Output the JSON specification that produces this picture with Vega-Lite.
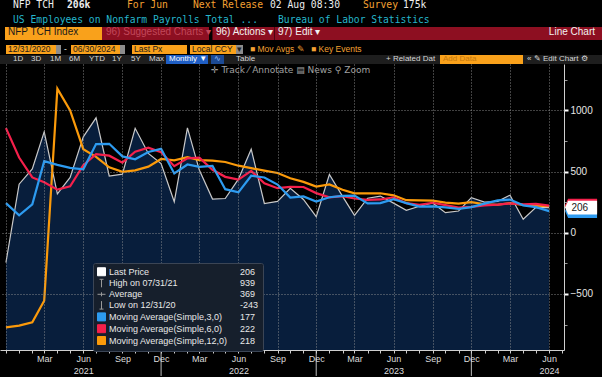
{
  "$schema": "https://vega.github.io/schema/vega-lite/v6.json",
  "background": "#000000",
  "padding": 0,
  "spacing": 0,
  "datasets": {
    "nfp": [
      {"date": "2020-12-01", "nfp": -243, "ma3": 242, "ma6": 855, "ma12": -773},
      {"date": "2021-01-01", "nfp": 397, "ma3": 142, "ma6": 615, "ma12": -759},
      {"date": "2021-02-01", "nfp": 522, "ma3": 232, "ma6": 452, "ma12": -732},
      {"date": "2021-03-01", "nfp": 825, "ma3": 585, "ma6": 412, "ma12": -555},
      {"date": "2021-04-01", "nfp": 318, "ma3": 555, "ma6": 352, "ma12": 1178},
      {"date": "2021-05-01", "nfp": 452, "ma3": 530, "ma6": 380, "ma12": 1000},
      {"date": "2021-06-01", "nfp": 784, "ma3": 518, "ma6": 552, "ma12": 683},
      {"date": "2021-07-01", "nfp": 939, "ma3": 725, "ma6": 642, "ma12": 620},
      {"date": "2021-08-01", "nfp": 464, "ma3": 727, "ma6": 630, "ma12": 535},
      {"date": "2021-09-01", "nfp": 479, "ma3": 624, "ma6": 573, "ma12": 498},
      {"date": "2021-10-01", "nfp": 854, "ma3": 600, "ma6": 662, "ma12": 510},
      {"date": "2021-11-01", "nfp": 648, "ma3": 660, "ma6": 695, "ma12": 540},
      {"date": "2021-12-01", "nfp": 566, "ma3": 686, "ma6": 658, "ma12": 603},
      {"date": "2022-01-01", "nfp": 253, "ma3": 485, "ma6": 544, "ma12": 592},
      {"date": "2022-02-01", "nfp": 857, "ma3": 558, "ma6": 608, "ma12": 618},
      {"date": "2022-03-01", "nfp": 512, "ma3": 538, "ma6": 613, "ma12": 594},
      {"date": "2022-04-01", "nfp": 275, "ma3": 546, "ma6": 515, "ma12": 590},
      {"date": "2022-05-01", "nfp": 280, "ma3": 356, "ma6": 457, "ma12": 578},
      {"date": "2022-06-01", "nfp": 438, "ma3": 330, "ma6": 434, "ma12": 548},
      {"date": "2022-07-01", "nfp": 683, "ma3": 466, "ma6": 505, "ma12": 528},
      {"date": "2022-08-01", "nfp": 239, "ma3": 452, "ma6": 404, "ma12": 508},
      {"date": "2022-09-01", "nfp": 256, "ma3": 394, "ma6": 364, "ma12": 488},
      {"date": "2022-10-01", "nfp": 364, "ma3": 287, "ma6": 375, "ma12": 445},
      {"date": "2022-11-01", "nfp": 272, "ma3": 297, "ma6": 374, "ma12": 416},
      {"date": "2022-12-01", "nfp": 131, "ma3": 255, "ma6": 324, "ma12": 378},
      {"date": "2023-01-01", "nfp": 476, "ma3": 290, "ma6": 290, "ma12": 395},
      {"date": "2023-02-01", "nfp": 297, "ma3": 301, "ma6": 299, "ma12": 352},
      {"date": "2023-03-01", "nfp": 142, "ma3": 304, "ma6": 280, "ma12": 322},
      {"date": "2023-04-01", "nfp": 282, "ma3": 240, "ma6": 268, "ma12": 322},
      {"date": "2023-05-01", "nfp": 300, "ma3": 242, "ma6": 272, "ma12": 323},
      {"date": "2023-06-01", "nfp": 242, "ma3": 275, "ma6": 290, "ma12": 306},
      {"date": "2023-07-01", "nfp": 184, "ma3": 242, "ma6": 242, "ma12": 266},
      {"date": "2023-08-01", "nfp": 217, "ma3": 214, "ma6": 228, "ma12": 264},
      {"date": "2023-09-01", "nfp": 244, "ma3": 215, "ma6": 245, "ma12": 262},
      {"date": "2023-10-01", "nfp": 164, "ma3": 208, "ma6": 226, "ma12": 246},
      {"date": "2023-11-01", "nfp": 178, "ma3": 196, "ma6": 206, "ma12": 238},
      {"date": "2023-12-01", "nfp": 287, "ma3": 210, "ma6": 212, "ma12": 250},
      {"date": "2024-01-01", "nfp": 250, "ma3": 238, "ma6": 223, "ma12": 233},
      {"date": "2024-02-01", "nfp": 257, "ma3": 264, "ma6": 230, "ma12": 229},
      {"date": "2024-03-01", "nfp": 307, "ma3": 271, "ma6": 240, "ma12": 242},
      {"date": "2024-04-01", "nfp": 110, "ma3": 224, "ma6": 232, "ma12": 228},
      {"date": "2024-05-01", "nfp": 208, "ma3": 209, "ma6": 236, "ma12": 221},
      {"date": "2024-06-01", "nfp": 206, "ma3": 177, "ma6": 222, "ma12": 218}
    ],
    "tags": [
      {"key": "ma3", "value": 177},
      {"key": "ma12", "value": 218},
      {"key": "ma6", "value": 222},
      {"key": "last", "value": 206}
    ]
  },
  "vconcat": [
    {"spacing": 0, "hconcat": [
      {"width": 67, "height": 13, "data": {"values": []}, "mark": "point", "title": {"text": "NFP TCH", "dx": 13, "font": "DejaVu Sans Mono", "fontSize": 9.7}},
      {"width": 60, "height": 13, "data": {"values": []}, "mark": "point", "title": {"text": "206k", "fontWeight": "bold", "font": "DejaVu Sans Mono", "fontSize": 9.7}},
      {"width": 66, "height": 13, "data": {"values": []}, "mark": "point", "title": {"text": "For Jun", "color": "#f4a132", "font": "DejaVu Sans Mono", "fontSize": 9.7}},
      {"width": 77, "height": 13, "data": {"values": []}, "mark": "point", "title": {"text": "Next Release", "color": "#f4a132", "font": "DejaVu Sans Mono", "fontSize": 9.7}},
      {"width": 93, "height": 13, "data": {"values": []}, "mark": "point", "title": {"text": "02 Aug 08:30", "font": "DejaVu Sans Mono", "fontSize": 9.7}},
      {"width": 40, "height": 13, "data": {"values": []}, "mark": "point", "title": {"text": "Survey", "color": "#f4a132", "font": "DejaVu Sans Mono", "fontSize": 9.7}},
      {"width": 199, "height": 13, "data": {"values": []}, "mark": "point", "title": {"text": "175k", "font": "DejaVu Sans Mono", "fontSize": 9.7}}
    ]},
    {"spacing": 0, "hconcat": [
      {"width": 278, "height": 14, "data": {"values": []}, "mark": "point", "title": {"text": "US Employees on Nonfarm Payrolls Total ...", "color": "#25b6cc", "dx": 13, "offset": -12, "font": "DejaVu Sans Mono", "fontSize": 9.7}},
      {"width": 324, "height": 14, "data": {"values": []}, "mark": "point", "title": {"text": "Bureau of Labor Statistics", "color": "#25b6cc", "offset": -12, "font": "DejaVu Sans Mono", "fontSize": 9.7}}
    ]},
    {"spacing": 0, "hconcat": [
      {"width": 5, "height": 13, "data": {"values": []}, "mark": "point"},
      {"width": 97, "height": 13, "data": {"values": []}, "mark": "point", "view": {"fill": "#f9a11b"}, "title": {"text": "NFP TCH Index", "color": "#1a1a1a", "dx": 3}},
      {"width": 107, "height": 13, "data": {"values": []}, "mark": "point", "view": {"fill": "#8d0f21"}, "title": {"text": "96) Suggested Charts ▾", "color": "#c2475a", "dx": 4}},
      {"width": 1, "height": 13, "data": {"values": []}, "mark": "point", "view": {"fill": "#4d0610"}},
      {"width": 61, "height": 13, "data": {"values": []}, "mark": "point", "view": {"fill": "#8d0f21"}, "title": {"text": "96) Actions ▾", "color": "#f2f2f2", "dx": 3}},
      {"width": 1, "height": 13, "data": {"values": []}, "mark": "point", "view": {"fill": "#4d0610"}},
      {"width": 47, "height": 13, "data": {"values": []}, "mark": "point", "view": {"fill": "#8d0f21"}, "title": {"text": "97) Edit ▾", "color": "#f2f2f2", "dx": 3}},
      {"width": 280, "height": 13, "data": {"values": []}, "mark": "point", "view": {"fill": "#8d0f21"}, "title": {"text": "Line Chart", "color": "#f2f2f2", "anchor": "end", "dx": -7}},
      {"width": 3, "height": 13, "data": {"values": []}, "mark": "point"}
    ]},
    {"width": 602, "height": 4, "data": {"values": []}, "mark": "point"},
    {"spacing": 0, "hconcat": [
      {"width": 6, "height": 9, "data": {"values": []}, "mark": "point"},
      {"width": 50, "height": 9, "data": {"values": []}, "mark": "point", "view": {"fill": "#f9a11b"}, "title": {"text": "12/31/2020", "color": "#1a1a1a", "fontSize": 8.5, "offset": -8, "dx": 2}},
      {"width": 5, "height": 9, "data": {"values": []}, "mark": "point", "view": {"fill": "#8c8c8c"}},
      {"width": 10, "height": 9, "data": {"values": []}, "mark": "point", "title": {"text": "-", "color": "#e0e0e0", "fontSize": 8.5, "offset": -8, "dx": 3}},
      {"width": 49, "height": 9, "data": {"values": []}, "mark": "point", "view": {"fill": "#f9a11b"}, "title": {"text": "06/30/2024", "color": "#1a1a1a", "fontSize": 8.5, "offset": -8, "dx": 2}},
      {"width": 5, "height": 9, "data": {"values": []}, "mark": "point", "view": {"fill": "#8c8c8c"}},
      {"width": 7, "height": 9, "data": {"values": []}, "mark": "point"},
      {"width": 55, "height": 9, "data": {"values": []}, "mark": "point", "view": {"fill": "#f9a11b"}, "title": {"text": "Last Px", "color": "#1a1a1a", "fontSize": 8.5, "offset": -8, "dx": 2}},
      {"width": 3, "height": 9, "data": {"values": []}, "mark": "point"},
      {"width": 46, "height": 9, "data": {"values": []}, "mark": "point", "view": {"fill": "#f9a11b"}, "title": {"text": "Local CCY", "color": "#1a1a1a", "fontSize": 8.5, "offset": -8, "dx": 2}},
      {"width": 7, "height": 9, "data": {"values": []}, "mark": "point", "view": {"fill": "#8c8c8c"}, "title": {"text": "▾", "color": "#222222", "fontSize": 8.5, "offset": -8, "dx": 1}},
      {"width": 7, "height": 9, "data": {"values": []}, "mark": "point"},
      {"width": 61, "height": 9, "data": {"values": []}, "mark": "point", "title": {"text": "■ Mov Avgs ✎", "color": "#f4a132", "fontSize": 8.5, "offset": -8}},
      {"width": 54, "height": 9, "data": {"values": []}, "mark": "point", "title": {"text": "■ Key Events", "color": "#f4a132", "fontSize": 8.5, "offset": -8}},
      {"width": 237, "height": 9, "data": {"values": []}, "mark": "point"}
    ]},
    {"width": 602, "height": 1, "data": {"values": []}, "mark": "point"},
    {"spacing": 0, "hconcat": [
      {"width": 31, "height": 9, "data": {"values": []}, "mark": "point", "view": {"fill": "#1e1e1e"}, "title": {"text": "1D", "color": "#d6d6d6", "fontSize": 8, "offset": -8, "dx": 13}},
      {"width": 19, "height": 9, "data": {"values": []}, "mark": "point", "view": {"fill": "#1e1e1e"}, "title": {"text": "3D", "color": "#d6d6d6", "fontSize": 8, "offset": -8}},
      {"width": 19, "height": 9, "data": {"values": []}, "mark": "point", "view": {"fill": "#1e1e1e"}, "title": {"text": "1M", "color": "#d6d6d6", "fontSize": 8, "offset": -8}},
      {"width": 20, "height": 9, "data": {"values": []}, "mark": "point", "view": {"fill": "#1e1e1e"}, "title": {"text": "6M", "color": "#d6d6d6", "fontSize": 8, "offset": -8}},
      {"width": 23, "height": 9, "data": {"values": []}, "mark": "point", "view": {"fill": "#1e1e1e"}, "title": {"text": "YTD", "color": "#d6d6d6", "fontSize": 8, "offset": -8}},
      {"width": 19, "height": 9, "data": {"values": []}, "mark": "point", "view": {"fill": "#1e1e1e"}, "title": {"text": "1Y", "color": "#d6d6d6", "fontSize": 8, "offset": -8}},
      {"width": 18, "height": 9, "data": {"values": []}, "mark": "point", "view": {"fill": "#1e1e1e"}, "title": {"text": "5Y", "color": "#d6d6d6", "fontSize": 8, "offset": -8}},
      {"width": 17, "height": 9, "data": {"values": []}, "mark": "point", "view": {"fill": "#1e1e1e"}, "title": {"text": "Max", "color": "#d6d6d6", "fontSize": 8, "offset": -8}},
      {"width": 42, "height": 9, "data": {"values": []}, "mark": "point", "view": {"fill": "#1f5ec4"}, "title": {"text": "Monthly ▼", "color": "#ffffff", "fontSize": 8, "offset": -8, "dx": 3}},
      {"width": 3, "height": 9, "data": {"values": []}, "mark": "point", "view": {"fill": "#1e1e1e"}},
      {"width": 13, "height": 9, "data": {"values": []}, "mark": "point", "view": {"fill": "#1c4a94"}, "title": {"text": "∿", "color": "#9fc3ff", "fontSize": 8, "offset": -8, "dx": 3}},
      {"width": 159, "height": 9, "data": {"values": []}, "mark": "point", "view": {"fill": "#1e1e1e"}, "title": {"text": "Table", "color": "#d6d6d6", "fontSize": 8, "offset": -8, "dx": 12}},
      {"width": 57, "height": 9, "data": {"values": []}, "mark": "point", "view": {"fill": "#1e1e1e"}, "title": {"text": "+ Related Dat", "color": "#d6d6d6", "fontSize": 8, "offset": -8, "dx": 3}},
      {"width": 83, "height": 9, "data": {"values": []}, "mark": "point", "view": {"fill": "#f9a11b"}, "title": {"text": "Add Data", "color": "#c4780f", "fontSize": 8, "offset": -8, "dx": 3}},
      {"width": 79, "height": 9, "data": {"values": []}, "mark": "point", "view": {"fill": "#1e1e1e"}, "title": {"text": "«  ✎ Edit Chart  ⚙", "color": "#d6d6d6", "fontSize": 8, "offset": -8, "dx": 4}}
    ]},
    {
      "width": 564,
      "height": 286,
      "view": {"fill": "#000000"},
      "title": {"text": "✛ Track           ⁄ Annotate      ▤ News        ⚲ Zoom", "dx": 211, "offset": -11, "font": "DejaVu Sans", "fontSize": 9, "color": "#a0a0a0"},
      "resolve": {"axis": {"x": "independent", "y": "independent"}},
      "layer": [
        {
          "data": {"name": "nfp"},
          "mark": {"type": "area", "color": "#081e3c"},
          "encoding": {
            "x": {
              "field": "date", "type": "temporal",
              "scale": {"type": "utc", "domain": [{"year": 2020, "month": 11, "date": 17, "utc": true}, {"year": 2024, "month": 7, "date": 6, "utc": true}]},
              "axis": {
                "orient": "bottom",
                "values": [
                  {"year": 2020, "month": 12, "date": 1, "utc": true},
                  {"year": 2021, "month": 3, "date": 1, "utc": true},
                  {"year": 2021, "month": 6, "date": 1, "utc": true},
                  {"year": 2021, "month": 9, "date": 1, "utc": true},
                  {"year": 2021, "month": 12, "date": 1, "utc": true},
                  {"year": 2022, "month": 3, "date": 1, "utc": true},
                  {"year": 2022, "month": 6, "date": 1, "utc": true},
                  {"year": 2022, "month": 9, "date": 1, "utc": true},
                  {"year": 2022, "month": 12, "date": 1, "utc": true},
                  {"year": 2023, "month": 3, "date": 1, "utc": true},
                  {"year": 2023, "month": 6, "date": 1, "utc": true},
                  {"year": 2023, "month": 9, "date": 1, "utc": true},
                  {"year": 2023, "month": 12, "date": 1, "utc": true},
                  {"year": 2024, "month": 3, "date": 1, "utc": true},
                  {"year": 2024, "month": 6, "date": 1, "utc": true}
                ],
                "grid": true,
                "gridColor": "#9a9a9a",
                "gridDash": [1, 2],
                "gridOpacity": 0.85,
                "domain": false,
                "ticks": false,
                "labelExpr": "utcyear(datum.value) < 2021 ? '' : (utcmonth(datum.value) == 5 ? [utcFormat(datum.value, '%b'), utcFormat(datum.value, '%Y')] : utcFormat(datum.value, '%b'))",
                "labelColor": "#dcdcdc",
                "labelFont": "Liberation Sans",
                "labelFontSize": 9,
                "labelPadding": 4,
                "labelLineHeight": 12,
                "labelOverlap": false,
                "labelFlush": false,
                "title": null,
                "zindex": 1
              }
            },
            "y": {
              "field": "nfp", "type": "quantitative",
              "scale": {"domain": [-958, 1379], "nice": false, "zero": false},
              "axis": {
                "orient": "right",
                "values": [-500, 0, 500, 1000],
                "format": "d",
                "grid": true,
                "gridColor": "#9a9a9a",
                "gridDash": [1, 2],
                "gridOpacity": 0.85,
                "labelOverlap": false,
                "domain": false,
                "tickColor": "#ffffff",
                "tickWidth": 2,
                "tickSize": 4,
                "labelColor": "#e6e6e6",
                "labelFont": "Liberation Sans",
                "labelFontSize": 10,
                "labelPadding": 2,
                "title": null,
                "zindex": 1
              }
            },
            "y2": {"datum": -958}
          }
        },
        {
          "data": {"name": "nfp"},
          "mark": {"type": "line", "color": "#c9c9c9", "strokeWidth": 1.2},
          "encoding": {
            "x": {
              "field": "date", "type": "temporal",
              "axis": {
                "orient": "bottom",
                "tickCount": {"interval": "month", "step": 1},
                "grid": false,
                "labels": false,
                "domainColor": "#cfcfcf",
                "tickColor": "#cfcfcf",
                "tickSize": 3,
                "title": null,
                "zindex": 1
              }
            },
            "y": {
              "field": "nfp", "type": "quantitative",
              "axis": {
                "orient": "right",
                "values": [-750, -250, 250, 750, 1250],
                "grid": false,
                "labels": false,
                "domainColor": "#cfcfcf",
                "tickColor": "#9a9a9a",
                "tickSize": 3,
                "title": null,
                "zindex": 1
              }
            }
          }
        },
        {
          "data": {"name": "nfp"},
          "transform": [{"fold": ["ma12", "ma6", "ma3"], "as": ["key", "val"]}],
          "mark": {"type": "line", "strokeWidth": 2.2},
          "encoding": {
            "x": {"field": "date", "type": "temporal", "axis": null},
            "y": {"field": "val", "type": "quantitative", "axis": null},
            "color": {
              "field": "key", "type": "nominal",
              "scale": {
                "domain": ["last", "high", "avg", "low", "ma3", "ma6", "ma12", "v1", "v2", "v3", "v4", "v5", "v6", "v7"],
                "range": ["#ffffff", "#9a9a9a", "#9a9a9a", "#9a9a9a", "#2d9bf0", "#f5204b", "#fb9a0a", "transparent", "transparent", "transparent", "transparent", "transparent", "transparent", "transparent"]
              },
              "legend": {
                "orient": "none",
                "legendX": 93,
                "legendY": 263,
                "title": null,
                "columns": 2,
                "gridAlign": "each",
                "symbolType": "square",
                "symbolSize": 64,
                "symbolStrokeWidth": 0,
                "labelFont": "Liberation Sans",
                "labelFontSize": 9,
                "labelColor": "#e8e8e8",
                "labelLimit": 200,
                "labelOffset": 3,
                "rowPadding": -1.2,
                "columnPadding": 0,
                "padding": 4,
                "fillColor": "#161f2c",
                "strokeColor": "#3b4555",
                "cornerRadius": 2,
                "labelExpr": "{'last':'Last Price','v1':'206','high':'High on 07/31/21','v2':'939','avg':'Average','v3':'369','low':'Low on 12/31/20','v4':'-243','ma3':'Moving Average(Simple,3,0)','v5':'177','ma6':'Moving Average(Simple,6,0)','v6':'222','ma12':'Moving Average(Simple,12,0)','v7':'218'}[datum.value]",
                "encode": {
                  "symbols": {
                    "update": {
                      "shape": {"signal": "datum.value == 'high' ? 'M-0.5,-1H0.5M0,-1V1' : datum.value == 'low' ? 'M0,-1V1M-0.5,1H0.5' : datum.value == 'avg' ? 'M-1,0H1M0,-0.5V0.5' : 'square'"},
                      "fill": [{"test": "indexof(['high','low','avg','v1','v2','v3','v4','v5','v6','v7'], datum.value) >= 0", "value": "transparent"}, {"scale": "color", "field": "value"}],
                      "stroke": [{"test": "indexof(['high','low','avg'], datum.value) >= 0", "value": "#9a9a9a"}, {"value": "transparent"}],
                      "strokeWidth": {"value": 1},
                      "opacity": [{"test": "indexof(['v1','v2','v3','v4','v5','v6','v7'], datum.value) >= 0", "value": 0}, {"value": 1}]
                    }
                  }
                }
              }
            }
          }
        },
        {
          "data": {"name": "nfp"},
          "transform": [{"filter": "utcmonth(toDate(datum.date)) == 11 && utcyear(toDate(datum.date)) > 2020"}],
          "mark": {"type": "rule", "color": "#bdbdbd", "strokeWidth": 1},
          "encoding": {
            "x": {"field": "date", "type": "temporal", "axis": null},
            "y": {"datum": -958, "axis": null},
            "y2": {"datum": -1170}
          }
        },
        {
          "data": {"name": "tags"},
          "mark": {"type": "point", "filled": true, "opacity": 1, "size": 928, "shape": "M-1.1,0L-0.9,-0.45H1V0.45H-0.9Z", "strokeWidth": 0},
          "encoding": {
            "x": {"datum": {"year": 2024, "month": 8, "date": 17, "utc": true}, "axis": null},
            "y": {"field": "value", "type": "quantitative", "axis": null},
            "color": {"field": "key", "type": "nominal"}
          }
        },
        {
          "data": {"values": [{"value": 206, "label": "206"}]},
          "mark": {"type": "text", "color": "#1a1a1a", "fontSize": 10, "font": "Liberation Sans"},
          "encoding": {
            "x": {"datum": {"year": 2024, "month": 8, "date": 12, "utc": true}, "axis": null},
            "y": {"field": "value", "type": "quantitative", "axis": null},
            "text": {"field": "label"}
          }
        }
      ]
    }
  ],
  "config": {
    "view": {"stroke": null},
    "title": {"anchor": "start", "frame": "group", "orient": "top", "offset": -10, "font": "Liberation Sans", "fontSize": 10, "fontWeight": "normal", "color": "#eeeeee", "dx": 0},
    "axis": {"labelFont": "Liberation Sans"}
  }
}
